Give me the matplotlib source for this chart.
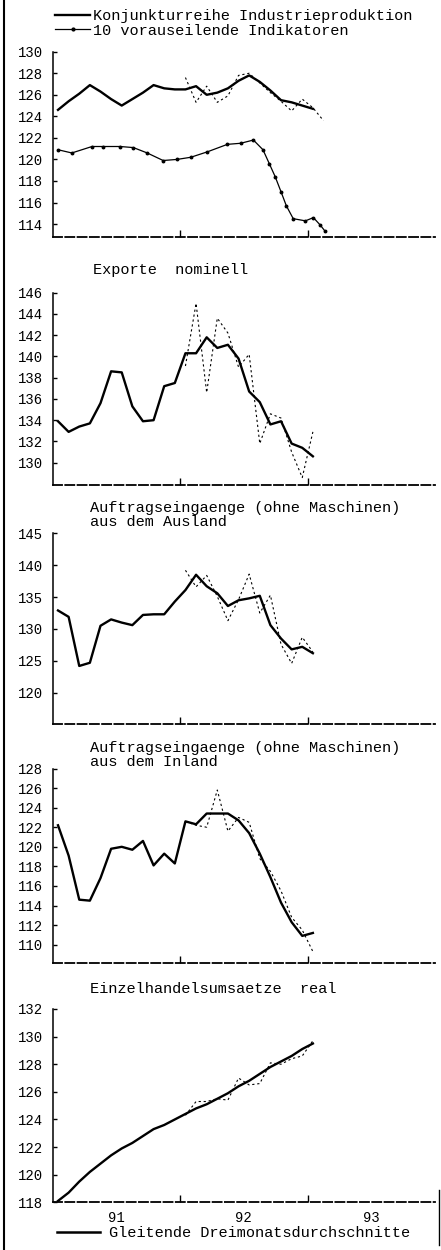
import numpy as np
import matplotlib
matplotlib.use("Agg")
import matplotlib.pyplot as plt
from matplotlib.lines import Line2D

# ---------------- data (month index 0 = Jan 1991) ----------------
ma_months = list(range(0, 25))
raw_months = list(range(12, 25))
raw_months_ip = list(range(12, 26))

ip_ma = [124.6, 125.4, 126.1, 126.9, 126.3, 125.6, 125.0, 125.6, 126.2, 126.9,
         126.6, 126.5, 126.5, 126.8, 126.0, 126.2, 126.6, 127.3, 127.8, 127.2,
         126.4, 125.5, 125.3, 125.0, 124.7]
ip_raw = [127.6, 125.3, 126.8, 125.3, 125.9, 127.8, 128.0, 127.1, 126.2, 125.4,
          124.5, 125.6, 124.8, 123.6]
ind_t = [0.0, 1.3, 3.2, 4.25, 5.85, 7.1, 8.4, 9.9, 11.2, 12.5, 14.05, 15.95,
         17.2, 18.4, 19.3, 19.9, 20.45, 21.0, 21.5, 22.15, 23.3, 24.05, 24.7, 25.1]
ind_v = [120.9, 120.6, 121.2, 121.2, 121.2, 121.1, 120.6, 119.9, 120.0, 120.2,
         120.7, 121.4, 121.5, 121.8, 120.9, 119.6, 118.4, 117.0, 115.7, 114.5,
         114.3, 114.6, 113.9, 113.4]

exp_ma = [133.9, 132.9, 133.4, 133.7, 135.6, 138.6, 138.5, 135.3, 133.9, 134.0,
          137.2, 137.5, 140.3, 140.3, 141.8, 140.8, 141.1, 139.8, 136.7, 135.7,
          133.6, 133.9, 131.8, 131.4, 130.6]
exp_raw = [139.1, 145.0, 136.6, 143.6, 142.2, 139.0, 140.2, 131.8, 134.6, 134.2,
           131.0, 128.6, 132.9]

aus_ma = [132.9, 131.9, 124.2, 124.7, 130.5, 131.5, 131.0, 130.6, 132.2, 132.3,
          132.3, 134.3, 136.1, 138.5, 136.7, 135.6, 133.6, 134.5, 134.8, 135.2,
          130.6, 128.5, 126.8, 127.2, 126.2]
aus_raw = [139.2, 136.6, 138.4, 135.1, 131.3, 134.6, 138.6, 132.5, 135.3, 127.6,
           124.6, 128.7, 126.4]

inl_ma = [122.2, 119.1, 114.6, 114.5, 116.8, 119.8, 120.0, 119.7, 120.6, 118.1,
          119.3, 118.3, 122.6, 122.3, 123.4, 123.4, 123.4, 122.7, 121.4, 119.3,
          116.9, 114.3, 112.3, 110.9, 111.2]
inl_raw = [122.6, 122.2, 122.0, 125.8, 121.6, 123.0, 122.5, 118.8, 117.5, 115.5,
           112.8, 111.5, 109.3]

ret_ma = [118.1, 118.7, 119.5, 120.2, 120.8, 121.4, 121.9, 122.3, 122.8, 123.3,
          123.6, 124.0, 124.4, 124.8, 125.1, 125.5, 125.9, 126.4, 126.8, 127.3,
          127.8, 128.2, 128.6, 129.1, 129.5]
ret_raw = [124.3, 125.3, 125.3, 125.5, 125.4, 127.0, 126.5, 126.6, 128.1, 128.0,
           128.4, 128.6, 129.7]

year_labels = ["91", "92", "93"]
legend_labels = ["Konjunkturreihe Industrieproduktion", "10 vorauseilende Indikatoren"]
titles = ["Exporte  nominell",
          "Auftragseingaenge (ohne Maschinen)\naus dem Ausland",
          "Auftragseingaenge (ohne Maschinen)\naus dem Inland",
          "Einzelhandelsumsaetze  real"]
bottom_legend = "Gleitende Dreimonatsdurchschnitte"

# ---------------- figure ----------------
W, H = 441, 1250
FONT = "Liberation Mono"
fig = plt.figure(figsize=(W / 100, H / 100), dpi=100)
fig.patch.set_facecolor("white")


def fx(px):
    return px / W


def fy(py):
    return 1 - py / H


def add_ax(top, bottom):
    left, right = 52.7, 435.0
    return fig.add_axes([fx(left), fy(bottom), (right - left) / W, (bottom - top) / H])


panels = [
    (51.7, 237.0, (112.8, 130.0), np.arange(114, 131, 2)),
    (292.7, 485.0, (127.9, 146.0), np.arange(130, 147, 2)),
    (533.3, 724.0, (115.1, 145.0), np.arange(120, 146, 5)),
    (768.5, 963.3, (108.1, 128.0), np.arange(110, 129, 2)),
    (1009.0, 1202.3, (118.0, 132.0), np.arange(118, 133, 2)),
]

ma_series = [ip_ma, exp_ma, aus_ma, inl_ma, ret_ma]
raw_series = [(raw_months_ip, ip_raw), (raw_months, exp_raw), (raw_months, aus_raw),
              (raw_months, inl_raw), (raw_months, ret_raw)]

axes = []
for i, (top, bot, ylim, yt) in enumerate(panels):
    ax = add_ax(top, bot)
    ax.set_xlim(0, 36)
    ax.set_ylim(*ylim)
    for s in ("top", "right"):
        ax.spines[s].set_visible(False)
    ax.spines["left"].set_linewidth(1.1)
    ax.spines["bottom"].set_linewidth(1.3)
    ax.spines["bottom"].set_linestyle((0, (5, 1.8)))
    ax.set_yticks(yt)
    ax.set_yticklabels([str(v) for v in yt], fontfamily=FONT, fontsize=10)
    ax.tick_params(axis="y", direction="in", length=3, width=1, pad=7)
    ax.set_xticks([12, 24])
    ax.tick_params(axis="x", which="major", direction="in", length=5, width=1,
                   labelbottom=False)
    ax.patch.set_alpha(0)

    x_ma = np.array(ma_months) + 0.5
    ax.plot(x_ma, ma_series[i], color="black", lw=1.7, solid_joinstyle="round",
            zorder=3)
    rm, rv = raw_series[i]
    ax.plot(np.array(rm) + 0.5, rv, color="black", lw=0.8, ls=(0, (2, 2.5)),
            zorder=2)
    axes.append(ax)

# leading indicator in panel 1
ax1 = axes[0]
ind_line, = ax1.plot(np.array(ind_t) + 0.5, ind_v, color="black", lw=0.9,
                     marker="o", ms=1.8, zorder=2)
ma_handle = Line2D([], [], color="black", lw=1.7)
ind_handle = Line2D([], [], color="black", lw=0.9, marker="o", ms=2.0)
ax1.legend([ma_handle, ind_handle], legend_labels, loc="upper left",
           bbox_to_anchor=(fx(55), fy(9)), bbox_transform=fig.transFigure,
           frameon=False, prop={"family": FONT, "size": 11},
           handlelength=2.3, handletextpad=0.2, labelspacing=0.05,
           borderpad=0, borderaxespad=0)

# panel titles
title_pos = [(93, 270), (90, 515), (90, 755), (90, 989)]
for (x, y), t in zip(title_pos, titles):
    fig.text(fx(x), fy(y), t, ha="left", va="center", fontfamily=FONT,
             fontsize=11, linespacing=1.0)

# year labels on bottom panel
ax5 = axes[-1]
ax5.set_xticks([6, 18, 30], minor=True)
ax5.set_xticklabels(year_labels, minor=True, fontfamily=FONT, fontsize=10)
ax5.tick_params(axis="x", which="minor", length=0, pad=6)

# bottom legend
leg_handle = Line2D([], [], color="black", lw=1.8)
fig.legend([leg_handle], [bottom_legend], loc="center left",
           bbox_to_anchor=(fx(57), fy(1233)), frameon=False,
           prop={"family": FONT, "size": 11}, handlelength=2.8,
           handletextpad=0.6, borderpad=0, borderaxespad=0)

# scan border lines
fig.add_artist(Line2D([fx(4), fx(4)], [0, 1], color="black", lw=1.5))
fig.add_artist(Line2D([fx(439), fx(439)], [fy(1245), fy(1190)], color="black", lw=1.0))

fig.savefig("out.png", dpi=100, facecolor="white")
